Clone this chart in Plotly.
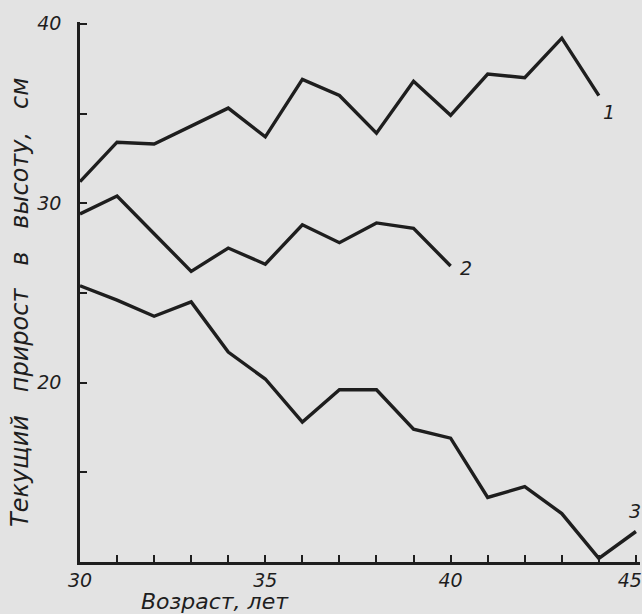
import plotly.graph_objects as go

# Age (years)
ages1 = [30, 31, 32, 33, 34, 35, 36, 37, 38, 39, 40, 41, 42, 43, 44]
curve1 = [31.2, 33.4, 33.3, 34.3, 35.3, 33.7, 36.9, 36.0, 33.9, 36.8, 34.9, 37.2, 37.0, 39.2, 36.0]

ages2 = [30, 31, 32, 33, 34, 35, 36, 37, 38, 39, 40]
curve2 = [29.4, 30.4, 28.3, 26.2, 27.5, 26.6, 28.8, 27.8, 28.9, 28.6, 26.5]

ages3 = [30, 31, 32, 33, 34, 35, 36, 37, 38, 39, 40, 41, 42, 43, 44, 45]
curve3 = [25.4, 24.6, 23.7, 24.5, 21.7, 20.2, 17.8, 19.6, 19.6, 17.4, 16.9, 13.6, 14.2, 12.7, 10.2, 11.7]

series_labels = ["1", "2", "3"]

x_tickvals = list(range(30, 46))
x_labelled = [30, 35, 40, 45]
y_tickvals = [10, 15, 20, 25, 30, 35, 40]
y_labelled = [20, 30, 40]

x_title = "Возраст, лет"
y_title_words = ["Текущий", "прирост", "в", "высоту,", "см"]

NB = "\u00a0"
x_ticktext = []
for v in x_tickvals:
    if v in x_labelled:
        t = "<i>%d</i>" % v
        if v == x_labelled[-1]:
            t += NB * 2  # nudge last label inward so it stays on the page
        x_ticktext.append(t)
    else:
        x_ticktext.append("")
y_ticktext = ["<i>%d</i>" % v if v in y_labelled else "" for v in y_tickvals]
y_title = (NB * 3).join(y_title_words)

INK = "#1e1e1e"
BG = "#e3e3e3"
FONT = "DejaVu Sans"

fig = go.Figure()
for xs, ys in [(ages1, curve1), (ages2, curve2), (ages3, curve3)]:
    fig.add_trace(go.Scatter(x=xs, y=ys, mode="lines",
                             line=dict(color=INK, width=3.4),
                             showlegend=False, hoverinfo="skip"))

# curve number labels near line ends
for xs, ys, lab, dx, dy in [(ages1, curve1, series_labels[0], 10, -16),
                            (ages2, curve2, series_labels[1], 15, -2),
                            (ages3, curve3, series_labels[2], -1, 21)]:
    fig.add_annotation(x=xs[-1], y=ys[-1], text="<i>" + lab + "</i>", showarrow=False,
                       xshift=dx, yshift=dy, font=dict(family=FONT, size=19, color=INK))

fig.add_annotation(xref="paper", yref="paper", x=(215 - 80) / 560, y=-(601 - 562) / 540,
                   text="<i>" + x_title + "</i>", showarrow=False,
                   xanchor="center", yanchor="middle",
                   font=dict(family=FONT, size=22, color=INK))
fig.add_annotation(xref="paper", yref="paper", x=(20 - 80) / 560, y=(562 - 303) / 540,
                   text="<i>" + y_title + "</i>", showarrow=False, textangle=-90,
                   xanchor="center", yanchor="middle",
                   font=dict(family=FONT, size=24, color=INK))

fig.update_layout(
    width=642, height=614,
    margin=dict(l=80, r=2, t=22, b=52),
    paper_bgcolor=BG, plot_bgcolor=BG,
    xaxis=dict(range=[30, 45.11], showgrid=False, zeroline=False,
               showline=True, linecolor=INK, linewidth=2.5,
               tickmode="array", tickvals=x_tickvals, ticktext=x_ticktext,
               ticks="inside", ticklen=7, tickwidth=2, tickcolor=INK,
               ticklabelstandoff=-1, ticklabeloverflow="allow",
               tickfont=dict(family=FONT, size=19, color=INK), automargin=False),
    yaxis=dict(range=[10, 40.1], showgrid=False, zeroline=False,
               showline=True, linecolor=INK, linewidth=2.5,
               tickmode="array", tickvals=y_tickvals, ticktext=y_ticktext,
               ticks="inside", ticklen=7, tickwidth=2, tickcolor=INK,
               ticklabelstandoff=12,
               tickfont=dict(family=FONT, size=19, color=INK), automargin=False),
)

fig.write_html("out.html", config={"displayModeBar": False},
               post_script="document.body.style.margin='0px';document.body.style.background='%s';" % BG)
